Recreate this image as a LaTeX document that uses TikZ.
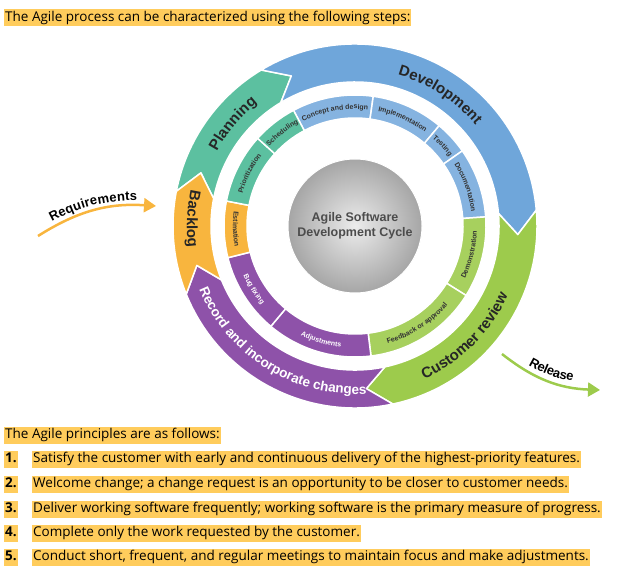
\documentclass[tikz,border=0pt]{standalone}
\usepackage{fontspec}
\setmainfont{Open Sans}
\newfontfamily\diafont{Liberation Sans}
\usetikzlibrary{positioning, arrows.meta, decorations.text}
\definecolor{hilite}{HTML}{FFCC5C}
\definecolor{cplan}{HTML}{5CC0A0}
\definecolor{cdev}{HTML}{6FA6DA}
\definecolor{crev}{HTML}{9DCB4C}
\definecolor{crec}{HTML}{8E52A9}
\definecolor{cback}{HTML}{F8B53E}
\tikzset{
    x=1pt, y=1pt,
    line/.style={anchor=west, fill=hilite, inner xsep=1pt, inner ysep=2pt, font=\fontsize{13.5}{14}\selectfont, text height=10pt, text depth=3pt}, % highlighted text lines
    num/.style={line, font=\fontsize{13.5}{14}\selectfont\bfseries},
    seg/.style={draw=white, line width=1.5pt, line join=round},
}
% outer arrow segment: colour, start angle, end angle (clockwise)
\newcommand{\outerseg}[3]{
    \path[seg, fill=#1] (#2:182) arc[start angle=#2, end angle=#3, radius=182]
        -- (#3-8:163) -- (#3:144) arc[start angle=#3, end angle=#2, radius=144]
        -- (#2-8:163) -- cycle;
}
% inner ring segment: colour, start angle, end angle
\newcommand{\innerseg}[3]{
    \path[seg, fill=#1] (#2:131) arc[start angle=#2, end angle=#3, radius=131]
        -- (#3:108) arc[start angle=#3, end angle=#2, radius=108] -- cycle;
}
% text along an arc: radius, start, end, font size, colour, text
\newcommand{\arctext}[6]{
    \path[decorate, decoration={text along path, text align=center, text color=#5,
        text={|\diafont\bfseries\fontsize{#4}{#4}\selectfont|#6}}]
        (#2:#1) arc[start angle=#2, end angle=#3, radius=#1];
}
\begin{document}
\begin{tikzpicture}
\useasboundingbox (0,0) rectangle (620,576);

% text lines
\node[line] (intro) at (4,558) {The Agile process can be characterized using the following steps:};
\node[line] (princ) at (4,141) {The Agile principles are as follows:};
\node[num] (n1) at (4,117) {1.};
\node[line] (p1) at (32,117) {Satisfy the customer with early and continuous delivery of the highest-priority features.};
\node[num] (n2) at (4,92) {2.};
\node[line] (p2) at (32,92) {Welcome change; a change request is an opportunity to be closer to customer needs.};
\node[num] (n3) at (4,67) {3.};
\node[line] (p3) at (32,67) {Deliver working software frequently; working software is the primary measure of progress.};
\node[num] (n4) at (4,43) {4.};
\node[line] (p4) at (32,43) {Complete only the work requested by the customer.};
\node[num] (n5) at (4,19) {5.};
\node[line] (p5) at (32,19) {Conduct short, frequent, and regular meetings to maintain focus and make adjustments.};

\begin{scope}[shift={(355,350)}]
    % outer ring
    \outerseg{cplan}{169}{121}
    \outerseg{cdev}{121}{5}
    \outerseg{crev}{5}{-78}
    \outerseg{crec}{-78}{-158}
    \outerseg{cback}{202}{169}
    \arctext{157}{167}{113}{15}{black!85}{Planning}
    \arctext{157}{100}{14}{15}{black!85}{Development}
    \arctext{168}{-88}{-2}{15}{black!85}{Customer review}
    \arctext{168}{197}{279}{13.5}{white}{Record and incorporate changes}
    \arctext{168}{162}{193}{15}{black!85}{Backlog}

    % inner ring
    \innerseg{cdev!85}{118}{82}
    \innerseg{cdev!85}{82}{50}
    \innerseg{cdev!85}{50}{35}
    \innerseg{cdev!85}{35}{4}
    \innerseg{crev!90}{4}{-32}
    \innerseg{crev!90}{-32}{-83}
    \innerseg{crec}{-83}{-130}
    \innerseg{crec}{-130}{-166}
    \innerseg{cback}{194}{169}
    \innerseg{cplan}{169}{138}
    \innerseg{cplan}{138}{118}
    \arctext{117}{118}{82}{7}{black!80}{Concept and design}
    \arctext{117}{82}{50}{7}{black!80}{Implementation}
    \arctext{117}{50}{35}{7}{black!80}{Testing}
    \arctext{117}{35}{4}{7}{black!80}{Documentation}
    \arctext{122}{-32}{4}{7}{black!80}{Demonstration}
    \arctext{122}{-83}{-32}{7}{black!80}{Feedback or approval}
    \arctext{122}{-130}{-83}{7}{white}{Adjustments}
    \arctext{122}{194}{230}{7}{white}{Bug fixing}
    \arctext{122}{169}{194}{7}{black!80}{Estimation}
    \arctext{117}{169}{138}{7}{black!80}{Prioritization}
    \arctext{117}{138}{118}{7}{black!80}{Scheduling}

    % centre
    \shade[inner color=gray!15, outer color=gray!70, draw=white, line width=1pt] (0,0) circle[radius=67];
    \node[font=\diafont\bfseries\fontsize{12.5}{15}\selectfont, text=black!70, align=center] (core) at (0,0) {Agile Software\\Development Cycle};
\end{scope}

% requirements and release arrows
\coordinate (reqa) at (38,340);
\coordinate (reqb) at (156,370);
\draw[cback, line width=2.5pt, -{Triangle[length=12pt, width=14pt]}] (reqa) to[bend left=18] (reqb);
\path[decorate, decoration={text along path, text align=center, raise=5pt,
    text={|\diafont\bfseries\fontsize{13}{13}\selectfont|Requirements}}] (reqa) to[bend left=18] (reqb);
\coordinate (rela) at (502,222);
\coordinate (relb) at (600,186);
\draw[crev, line width=2.5pt, -{Triangle[length=12pt, width=14pt]}] (rela) to[bend right=18] (relb);
\path[decorate, decoration={text along path, text align=center, raise=6pt,
    text={|\diafont\bfseries\fontsize{13}{13}\selectfont|Release}}] (rela) to[bend right=18] (relb);
\end{tikzpicture}
\end{document}
